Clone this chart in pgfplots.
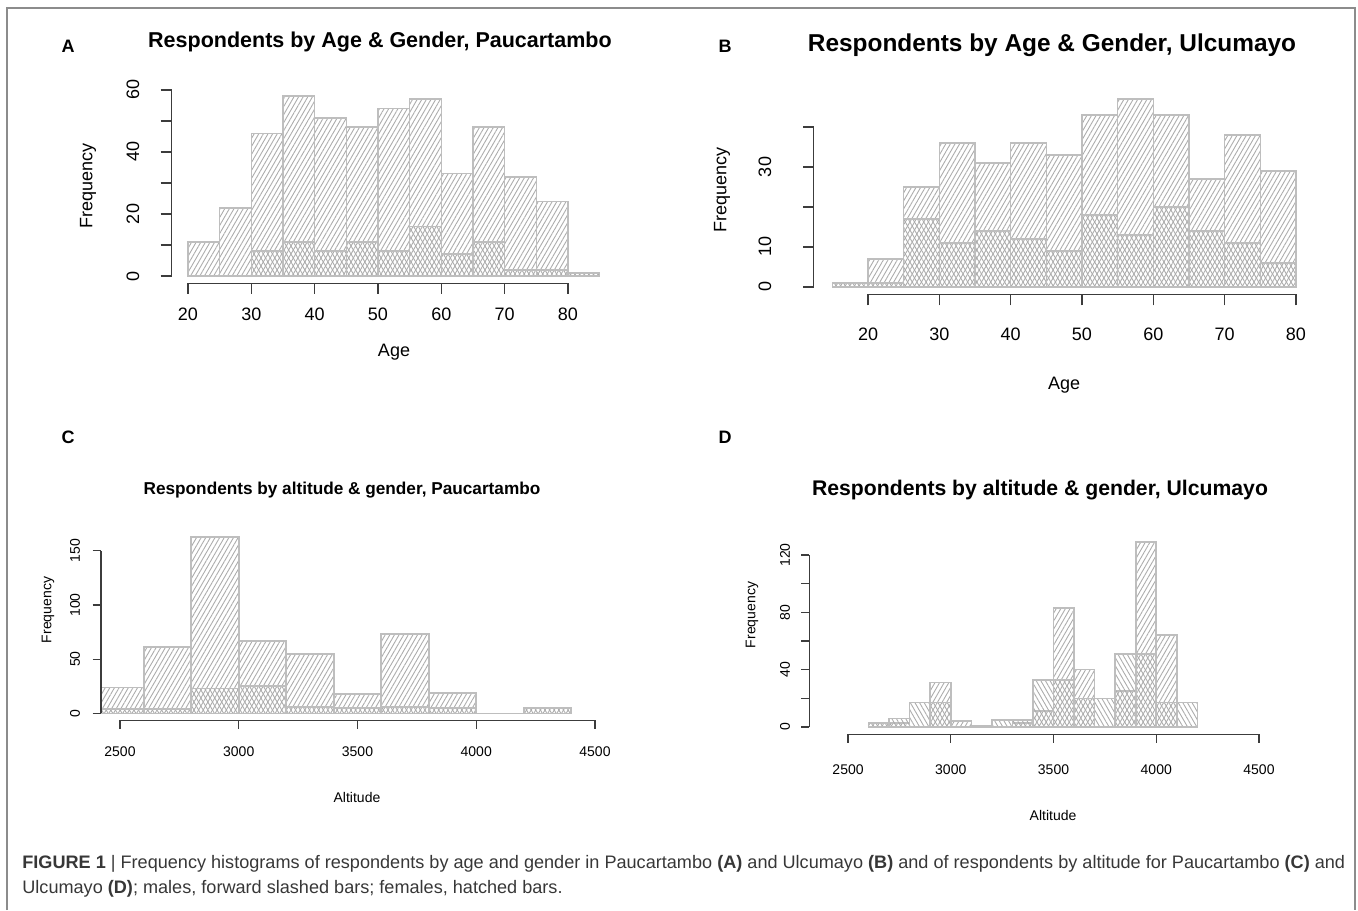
\documentclass[border=0pt]{standalone}
\usepackage{pgfplots}
\pgfplotsset{compat=1.18}
\usepackage{fontspec}
\setmainfont{Liberation Sans}
\usetikzlibrary{patterns.meta}
\definecolor{barcol}{RGB}{190,190,190}
\definecolor{hatchcol}{RGB}{172,172,172}
\definecolor{axcol}{RGB}{60,60,60}
\definecolor{framecol}{RGB}{140,140,140}
\definecolor{capcol}{RGB}{55,55,55}
\tikzset{
  male/.style={draw=barcol, line width=0.8pt, pattern={Lines[angle=60,distance=2pt,line width=0.45pt]}, pattern color=hatchcol},
  female/.style={draw=barcol, line width=0.8pt, pattern={Lines[angle=-60,distance=2pt,line width=0.45pt]}, pattern color=hatchcol},
}
\pgfplotsset{
  rax/.style={
    scale only axis, anchor=south west,
    axis x line*=bottom, axis y line*=left,
    axis line style={draw=none},
    tick align=outside,
    tick style={draw=axcol, line width=0.6pt},
    xticklabel=\empty, yticklabel=\empty,
    clip mode=individual,
  },
}
\newcommand\tkA{\fontsize{9}{9}\selectfont}
\newcommand\ttA{\fontsize{10.75}{11}\selectfont\bfseries}
\newcommand\ttB{\fontsize{12.2}{12}\selectfont\bfseries}
\newcommand\tkC{\fontsize{7}{7}\selectfont}
\newcommand\ttC{\fontsize{8.6}{9}\selectfont\bfseries}
\newcommand\ttD{\fontsize{10.6}{11}\selectfont\bfseries}
\begin{document}
\begin{tikzpicture}
\path[use as bounding box] (0,0) rectangle (679pt,455pt);
\draw[framecol, line width=0.6pt] (3.5pt,0) -- (3.5pt,451pt) -- (677.5pt,451pt) -- (677.5pt,0);

% ---------------- A ----------------
\begin{axis}[rax, at={(85.75pt,313.4pt)}, width=222.3pt, height=97.1pt,
  xmin=17.4, xmax=87.6, ymin=-2.32, ymax=60.32,
  xtick={20,30,40,50,60,70,80}, ytick={0,10,20,30,40,50,60},
  major tick length=5.4pt]
\addplot[ybar interval, male] coordinates {(20,11) (25,22) (30,46) (35,58) (40,51) (45,48) (50,54) (55,57) (60,33) (65,48) (70,32) (75,24) (80,1) (85,0)};
\addplot[ybar interval, female] coordinates {(30,8) (35,11) (40,8) (45,11) (50,8) (55,16) (60,7) (65,11) (70,2) (75,2) (80,1) (85,0)};
\draw[axcol, line width=0.6pt] (axis cs:20,-2.32) -- (axis cs:80,-2.32);
\draw[axcol, line width=0.6pt] (axis cs:17.4,0) -- (axis cs:17.4,60);
\pgfplotsinvokeforeach{20,30,40,50,60,70,80}{\node[font=\tkA, yshift=-15.4pt] at (axis cs:#1,-2.32) {#1};}
\pgfplotsinvokeforeach{0,20,40,60}{\node[font=\tkA, xshift=-19.25pt, rotate=90] at (axis cs:17.4,#1) {#1};}
\end{axis}

% ---------------- B ----------------
\begin{axis}[rax, at={(406.9pt,307.75pt)}, width=250.35pt, height=101.5pt,
  xmin=12.4, xmax=82.6, ymin=-1.88, ymax=48.88,
  xtick={20,30,40,50,60,70,80}, ytick={0,10,20,30,40},
  major tick length=5.4pt]
\addplot[ybar interval, male] coordinates {(15,1) (20,7) (25,25) (30,36) (35,31) (40,36) (45,33) (50,43) (55,47) (60,43) (65,27) (70,38) (75,29) (80,0)};
\addplot[ybar interval, female] coordinates {(15,1) (20,1) (25,17) (30,11) (35,14) (40,12) (45,9) (50,18) (55,13) (60,20) (65,14) (70,11) (75,6) (80,0)};
\draw[axcol, line width=0.6pt] (axis cs:20,-1.88) -- (axis cs:80,-1.88);
\draw[axcol, line width=0.6pt] (axis cs:12.4,0) -- (axis cs:12.4,40);
\pgfplotsinvokeforeach{20,30,40,50,60,70,80}{\node[font=\tkA, yshift=-19.75pt] at (axis cs:#1,-1.88) {#1};}
\pgfplotsinvokeforeach{0,10,30}{\node[font=\tkA, xshift=-24.4pt, rotate=90] at (axis cs:12.4,#1) {#1};}
\end{axis}

% ---------------- C ----------------
\begin{axis}[rax, at={(50.5pt,94.8pt)}, width=256.5pt, height=95.35pt,
  xmin=2420, xmax=4580, ymin=-6.52, ymax=169.52,
  xtick={2500,3000,3500,4000,4500}, ytick={0,50,100,150},
  major tick length=4.2pt]
\addplot[ybar interval, male] coordinates {(2400,24) (2600,61) (2800,163) (3000,67) (3200,55) (3400,18) (3600,73) (3800,19) (4000,0) (4200,5) (4400,0)};
\addplot[ybar interval, female] coordinates {(2400,4) (2600,4) (2800,23) (3000,25) (3200,6) (3400,5) (3600,6) (3800,5) (4000,0) (4200,5) (4400,0)};
\draw[axcol, line width=0.6pt] (axis cs:2500,-6.52) -- (axis cs:4500,-6.52);
\draw[axcol, line width=0.6pt] (axis cs:2420,0) -- (axis cs:2420,150);
\pgfplotsinvokeforeach{2500,3000,3500,4000,4500}{\node[font=\tkC, yshift=-15.8pt] at (axis cs:#1,-6.52) {#1};}
\pgfplotsinvokeforeach{0,50,100,150}{\node[font=\tkC, xshift=-13pt, rotate=90] at (axis cs:2420,#1) {#1};}
\end{axis}

% ---------------- D ----------------
\begin{axis}[rax, at={(404.7pt,87.8pt)}, width=244.1pt, height=99.85pt,
  xmin=2312, xmax=4688, ymin=-5.16, ymax=134.16,
  xtick={2500,3000,3500,4000,4500}, ytick={0,20,40,60,80,100,120},
  major tick length=4.2pt]
\addplot[ybar interval, male] coordinates {(2600,3) (2700,3) (2800,0) (2900,31) (3000,4) (3100,1) (3200,0) (3300,3) (3400,11) (3500,83) (3600,40) (3700,0) (3800,25) (3900,129) (4000,64) (4100,0) (4200,0)};
\addplot[ybar interval, female] coordinates {(2600,3) (2700,6) (2800,17) (2900,17) (3000,0) (3100,0) (3200,5) (3300,5) (3400,33) (3500,33) (3600,20) (3700,20) (3800,51) (3900,51) (4000,17) (4100,17) (4200,0)};
\draw[axcol, line width=0.6pt] (axis cs:2500,-5.16) -- (axis cs:4500,-5.16);
\draw[axcol, line width=0.6pt] (axis cs:2312,0) -- (axis cs:2312,120);
\pgfplotsinvokeforeach{2500,3000,3500,4000,4500}{\node[font=\tkC, yshift=-17.8pt] at (axis cs:#1,-5.16) {#1};}
\pgfplotsinvokeforeach{0,40,80,120}{\node[font=\tkC, xshift=-12.2pt, rotate=90] at (axis cs:2312,#1) {#1};}
\end{axis}

% ---------------- texts ----------------
\node[font=\ttA] at (190pt,434pt) {Respondents by Age \& Gender, Paucartambo};
\node[font=\ttB] at (526pt,432.5pt) {Respondents by Age \& Gender, Ulcumayo};
\node[font=\ttC] at (171pt,210pt) {Respondents by altitude \& gender, Paucartambo};
\node[font=\ttD] at (520pt,210pt) {Respondents by altitude \& gender, Ulcumayo};
\node[font=\tkA\bfseries] at (34pt,432pt) {A};
\node[font=\tkA\bfseries] at (362.5pt,432pt) {B};
\node[font=\tkA\bfseries] at (34pt,236.5pt) {C};
\node[font=\tkA\bfseries] at (362.5pt,236.5pt) {D};
\node[font=\tkA, rotate=90] at (44pt,362pt) {Frequency};
\node[font=\tkA, rotate=90] at (361pt,360pt) {Frequency};
\node[font=\tkC, rotate=90] at (24pt,150pt) {Frequency};
\node[font=\tkC, rotate=90] at (376pt,147.5pt) {Frequency};
\node[font=\tkA] at (197pt,279pt) {Age};
\node[font=\tkA] at (532pt,262.5pt) {Age};
\node[font=\tkC] at (178.5pt,56.5pt) {Altitude};
\node[font=\tkC] at (526.5pt,47.5pt) {Altitude};
\node[anchor=base west, inner sep=0pt, font=\fontsize{9.05}{9}\selectfont, text=capcol] at (11pt,21pt) {\textbf{FIGURE 1} | Frequency histograms of respondents by age and gender in Paucartambo \textbf{(A)} and Ulcumayo \textbf{(B)} and of respondents by altitude for Paucartambo \textbf{(C)} and};
\node[anchor=base west, inner sep=0pt, font=\fontsize{9.05}{9}\selectfont, text=capcol] at (11pt,8.5pt) {Ulcumayo \textbf{(D)}; males, forward slashed bars; females, hatched bars.};
\end{tikzpicture}
\end{document}
